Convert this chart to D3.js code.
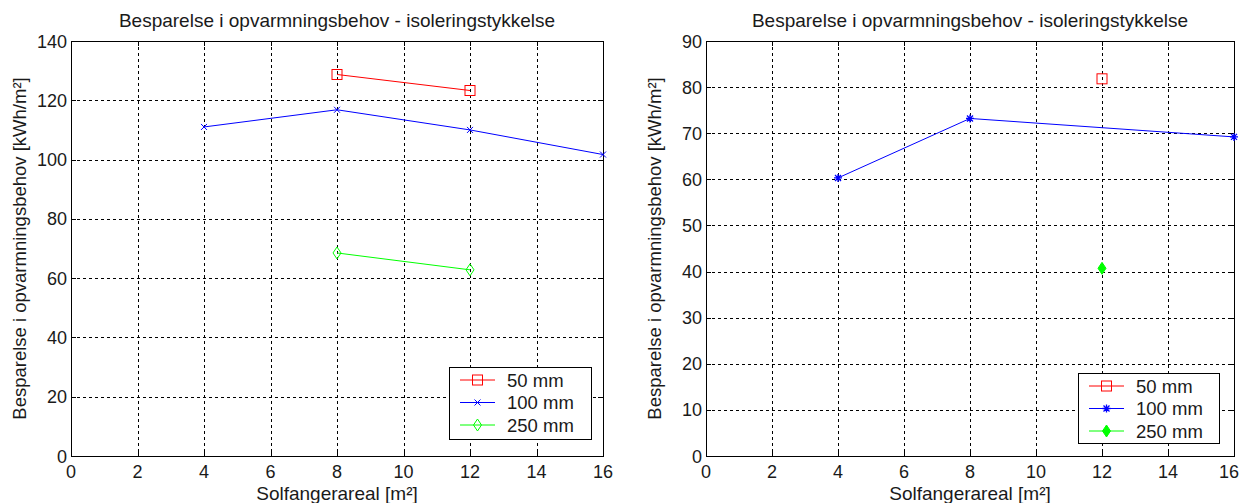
<!DOCTYPE html>
<meta charset="utf-8">
<style>
body { margin: 0; background: #fff; }
text { font-family: "Liberation Sans", Arial, sans-serif; fill: #1a1a1a; }
.grid line { stroke: #000; stroke-dasharray: 3,3; stroke-width: 1px; shape-rendering: crispEdges; }
.frame { fill: none; stroke: #000; stroke-width: 1px; shape-rendering: crispEdges; }
.tick-mark { stroke: #000; shape-rendering: crispEdges; }
</style>
<svg width="1242" height="503"></svg>
<script src="https://d3js.org/d3.v7.min.js"></script>
<script>
// data
var xTicks = [0, 2, 4, 6, 8, 10, 12, 14, 16];
var seriesNames = ["50 mm", "100 mm", "250 mm"];
var seriesColors = ["#ff0000", "#0000ff", "#00ff00"];

// left panel
var leftYTicks = [0, 20, 40, 60, 80, 100, 120, 140];
var left50 = [[8, 128.7], [12, 123.3]];
var left100 = [[4, 111.0], [8, 116.8], [12, 110.0], [16, 101.7]];
var left250 = [[8, 68.5], [12, 62.8]];

// right panel
var rightYTicks = [0, 10, 20, 30, 40, 50, 60, 70, 80, 90];
var right50 = [[12, 81.8]];
var right100 = [[4, 60.3], [8, 73.2], [16, 69.2]];
var right250 = [[12, 40.7]];

var title = "Besparelse i opvarmningsbehov - isoleringstykkelse";
var xLabel = "Solfangerareal [m²]";
var yLabel = "Besparelse i opvarmningsbehov [kWh/m²]";

var svg = d3.select("svg");

function marker(g, type, color, x, y) {
  if (type === "square") {
    g.append("rect").attr("x", x - 5).attr("y", y - 5).attr("width", 10).attr("height", 10)
      .attr("fill", "none").attr("stroke", color);
  } else if (type === "x") {
    g.append("path").attr("d", "M" + (x - 3) + "," + (y - 3) + "L" + (x + 3) + "," + (y + 3) +
      "M" + (x - 3) + "," + (y + 3) + "L" + (x + 3) + "," + (y - 3))
      .attr("stroke", color).attr("fill", "none");
  } else if (type === "star") {
    g.append("path").attr("d", "M" + (x - 4) + "," + y + "H" + (x + 4) + "M" + x + "," + (y - 4) + "V" + (y + 4) +
      "M" + (x - 3) + "," + (y - 3) + "L" + (x + 3) + "," + (y + 3) +
      "M" + (x - 3) + "," + (y + 3) + "L" + (x + 3) + "," + (y - 3))
      .attr("stroke", color).attr("stroke-width", 1.3).attr("fill", "none");
  } else if (type === "diamond" || type === "fdiamond") {
    g.append("path").attr("d", "M" + x + "," + (y - 6) + "L" + (x + 4) + "," + y + "L" + x + "," + (y + 6) + "L" + (x - 4) + "," + y + "Z")
      .attr("stroke", color).attr("fill", type === "fdiamond" ? color : "none");
  }
}

function panel(opt) {
  var x = d3.scaleLinear().domain([0, 16]).range([opt.left, opt.right]);
  var y = d3.scaleLinear().domain([0, opt.yTicks[opt.yTicks.length - 1]]).range([opt.bottom, opt.top]);
  var g = svg.append("g");

  // grid
  var grid = g.append("g").attr("class", "grid");
  grid.selectAll(".gx").data(xTicks.slice(1, -1)).enter().append("line")
    .attr("x1", function(d) { return Math.round(x(d)) + 0.5; })
    .attr("x2", function(d) { return Math.round(x(d)) + 0.5; })
    .attr("y1", opt.top).attr("y2", opt.bottom);
  grid.selectAll(".gy").data(opt.yTicks.slice(1, -1)).enter().append("line")
    .attr("y1", function(d) { return Math.round(y(d)) + 0.5; })
    .attr("y2", function(d) { return Math.round(y(d)) + 0.5; })
    .attr("x1", opt.left).attr("x2", opt.right);

  // tick marks inside, all four sides
  xTicks.forEach(function(d) {
    var px = Math.round(x(d)) + 0.5;
    g.append("line").attr("class", "tick-mark").attr("x1", px).attr("x2", px).attr("y1", opt.bottom).attr("y2", opt.bottom - 5);
    g.append("line").attr("class", "tick-mark").attr("x1", px).attr("x2", px).attr("y1", opt.top).attr("y2", opt.top + 5);
  });
  opt.yTicks.forEach(function(d) {
    var py = Math.round(y(d)) + 0.5;
    g.append("line").attr("class", "tick-mark").attr("y1", py).attr("y2", py).attr("x1", opt.left).attr("x2", opt.left + 5);
    g.append("line").attr("class", "tick-mark").attr("y1", py).attr("y2", py).attr("x1", opt.right).attr("x2", opt.right - 5);
  });

  g.append("rect").attr("class", "frame")
    .attr("x", opt.left + 0.5).attr("y", opt.top + 0.5)
    .attr("width", opt.right - opt.left).attr("height", opt.bottom - opt.top);

  // tick labels (kept inside the page at the right edge)
  g.selectAll(".xl").data(xTicks).enter().append("text")
    .attr("x", function(d) { return Math.min(x(d), 1229); }).attr("y", opt.bottom + 22)
    .attr("text-anchor", "middle").attr("font-size", 18).text(function(d) { return d; });
  g.selectAll(".yl").data(opt.yTicks).enter().append("text")
    .attr("x", opt.left - 4).attr("y", function(d) { return y(d) + 6.5; })
    .attr("text-anchor", "end").attr("font-size", 18).text(function(d) { return d; });

  // titles
  g.append("text").attr("x", (opt.left + opt.right) / 2).attr("y", opt.top - 14)
    .attr("text-anchor", "middle").attr("font-size", 19).text(title);
  g.append("text").attr("x", (opt.left + opt.right) / 2).attr("y", opt.bottom + 44)
    .attr("text-anchor", "middle").attr("font-size", 19).text(xLabel);
  g.append("text").attr("transform", "translate(" + (opt.left - 45) + "," + ((opt.top + opt.bottom) / 2) + ") rotate(-90)")
    .attr("text-anchor", "middle").attr("font-size", 18.5).text(yLabel);

  // series
  var line = d3.line().x(function(d) { return x(d[0]); }).y(function(d) { return y(d[1]); });
  opt.series.forEach(function(s, i) {
    if (s.length > 1) {
      g.append("path").attr("d", line(s)).attr("fill", "none").attr("stroke", seriesColors[i]).attr("stroke-width", 1);
    }
    s.forEach(function(d) { marker(g, opt.markers[i], seriesColors[i], x(d[0]), y(d[1])); });
  });

  // legend
  var lg = g.append("g");
  lg.append("rect").attr("x", opt.legend[0] + 0.5).attr("y", opt.legend[1] + 0.5)
    .attr("width", opt.legend[2]).attr("height", opt.legend[3])
    .attr("fill", "#fff").attr("stroke", "#000");
  seriesNames.forEach(function(n, i) {
    var ly = opt.legend[1] + 13 + i * 22.5;
    var lx = opt.legend[0] + 11;
    lg.append("line").attr("x1", lx).attr("x2", lx + 35).attr("y1", ly).attr("y2", ly).attr("stroke", seriesColors[i]);
    marker(lg, opt.markers[i], seriesColors[i], lx + 17.5, ly);
    lg.append("text").attr("x", lx + 47).attr("y", ly + 6.5).attr("font-size", 18.5).text(n);
  });
}

panel({
  left: 71, right: 603, top: 41, bottom: 456,
  yTicks: leftYTicks,
  series: [left50, left100, left250],
  markers: ["square", "x", "diamond"],
  legend: [449, 367, 142, 72]
});

panel({
  left: 706, right: 1234, top: 41, bottom: 456,
  yTicks: rightYTicks,
  series: [right50, right100, right250],
  markers: ["square", "star", "fdiamond"],
  legend: [1078, 373, 141, 70]
});
</script>
